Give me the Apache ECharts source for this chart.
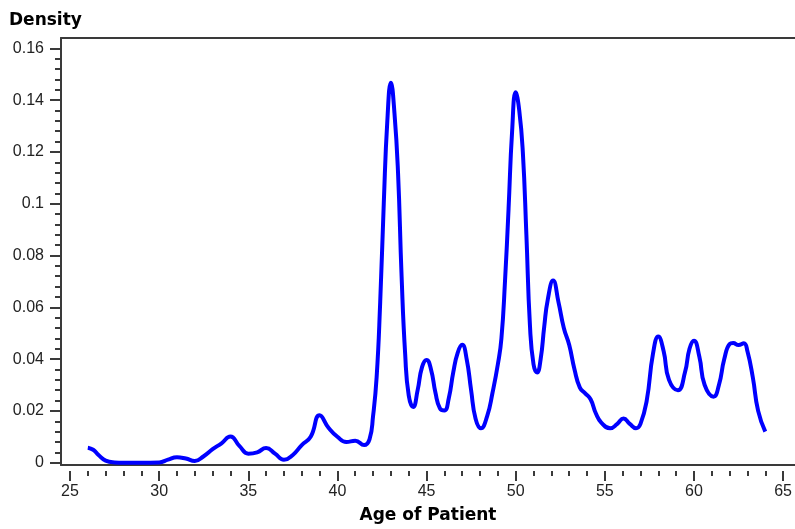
<!DOCTYPE html>
<html>
<head>
<meta charset="utf-8">
<script src="https://cdn.jsdelivr.net/npm/echarts@6/dist/echarts.min.js"></script>
<style>
  html, body { margin: 0; padding: 0; background: #fff; }
  #chart { width: 795px; height: 529px; }
</style>
</head>
<body>
<div id="chart"></div>
<script>
// Kernel density estimate of patient age
const ages = [
  26.0, 26.3, 26.6, 27.0, 27.5, 28.0, 29.0, 30.0, 30.5, 31.0, 31.5, 32.0,
  32.5, 33.0, 33.5, 34.0, 34.5, 35.0, 35.5, 36.0, 36.5, 37.0, 37.5, 38.0,
  38.5, 39.0, 39.5, 40.0, 40.5, 41.0, 41.5, 41.8, 42.0, 42.2, 42.4, 42.6,
  42.8, 43.0, 43.2, 43.4, 43.6, 43.8, 44.0, 44.25, 44.5, 44.75, 45.0, 45.25,
  45.5, 45.75, 46.0, 46.25, 46.5, 46.75, 47.0, 47.25, 47.5, 47.75, 48.05, 48.4,
  48.7, 49.0, 49.2, 49.4, 49.6, 49.8, 50.0, 50.2, 50.4, 50.6, 50.8, 51.0,
  51.2, 51.4, 51.6, 51.8, 52.1, 52.4, 52.7, 53.0, 53.3, 53.6, 53.9, 54.2,
  54.5, 54.8, 55.3, 55.7, 56.05, 56.4, 56.75, 57.0, 57.35, 57.7, 58.0, 58.3,
  58.6, 59.1, 59.5, 59.75, 60.0, 60.3, 60.6, 61.1, 61.4, 61.7, 62.0, 62.2,
  62.5, 62.8, 63.0, 63.3, 63.6, 64.0
];
const density = [
  0.0058, 0.0050, 0.0030, 0.0008, 0.0001, 0.0000, 0.0000, 0.0001, 0.0012, 0.0021, 0.0016, 0.0007,
  0.0025, 0.0052, 0.0075, 0.0101, 0.0065, 0.0035, 0.0040, 0.0057, 0.0035, 0.0011, 0.0030, 0.0068,
  0.0100, 0.0183, 0.0135, 0.0100, 0.0080, 0.0085, 0.0068, 0.0090, 0.0180, 0.0330, 0.0620, 0.1000,
  0.1320, 0.1467, 0.1350, 0.1120, 0.0720, 0.0420, 0.0260, 0.0215, 0.0280, 0.0370, 0.0397, 0.0360,
  0.0270, 0.0210, 0.0202, 0.0250, 0.0350, 0.0425, 0.0455, 0.0400, 0.0280, 0.0170, 0.0133, 0.0180,
  0.0270, 0.0380, 0.0480, 0.0700, 0.0980, 0.1280, 0.1430, 0.1360, 0.1200, 0.0880, 0.0530, 0.0380,
  0.0348, 0.0400, 0.0525, 0.0630, 0.0703, 0.0620, 0.0520, 0.0455, 0.0360, 0.0290, 0.0268, 0.0245,
  0.0190, 0.0155, 0.0133, 0.0150, 0.0171, 0.0150, 0.0133, 0.0150, 0.0240, 0.0420, 0.0487, 0.0430,
  0.0320, 0.0280, 0.0350, 0.0440, 0.0471, 0.0410, 0.0300, 0.0255, 0.0300, 0.0400, 0.0458, 0.0462,
  0.0454, 0.0461, 0.0430, 0.0330, 0.0200, 0.0120
];

const xTitle = 'Age of Patient';
const yTitle = 'Density';

const axisColor = '#3a3a3a';
const labelFont = { fontFamily: 'Liberation Sans, Arial, sans-serif', fontSize: 16, color: '#222' };
const titleFont = { fontFamily: 'DejaVu Sans, sans-serif', fontSize: 17, fontWeight: 'bold', color: '#000' };

const frameAxis = (extra) => Object.assign({
  gridIndex: 0, type: 'value', min: 0, max: 1,
  axisLine: { show: true, onZero: false, lineStyle: { color: axisColor, width: 2 } },
  axisTick: { show: false }, axisLabel: { show: false }, splitLine: { show: false }
}, extra);

const chart = echarts.init(document.getElementById('chart'), null, { renderer: 'canvas' });
chart.setOption({
  animation: false,
  backgroundColor: '#fff',
  title: { text: yTitle, left: 4, top: 7, textStyle: titleFont },
  grid: [
    // outer frame: left, top and bottom lines
    { left: 61, right: -1, top: 38, bottom: 58 },
    // data area: 25..65 by 0..0.16
    { left: 70, right: 8, top: 48.3, bottom: 66.3 }
  ],
  xAxis: [
    frameAxis({ position: 'bottom', name: xTitle, nameLocation: 'middle', nameGap: 42, nameTextStyle: titleFont }),
    frameAxis({ position: 'top' }),
    {
      gridIndex: 1, type: 'value', min: 25, max: 65, interval: 5, offset: 8.3,
      axisLine: { show: false, onZero: false },
      axisTick: { show: true, length: 10, lineStyle: { color: axisColor, width: 2 } },
      minorTick: { show: true, splitNumber: 5, length: 5, lineStyle: { color: axisColor, width: 2 } },
      axisLabel: Object.assign({ margin: 13 }, labelFont),
      splitLine: { show: false }
    }
  ],
  yAxis: [
    frameAxis({ position: 'left' }),
    {
      gridIndex: 1, type: 'value', min: 0, max: 0.16, interval: 0.02, offset: 9,
      axisLine: { show: false, onZero: false },
      axisTick: { show: true, length: 11, lineStyle: { color: axisColor, width: 2 } },
      minorTick: { show: true, splitNumber: 5, length: 6, lineStyle: { color: axisColor, width: 2 } },
      axisLabel: Object.assign({ margin: 17 }, labelFont),
      splitLine: { show: false }
    }
  ],
  series: [{
    type: 'line',
    xAxisIndex: 2, yAxisIndex: 1,
    data: ages.map((a, i) => [a, density[i]]),
    smooth: 0.5,
    showSymbol: false,
    clip: false,
    lineStyle: { color: '#0000ff', width: 4 }
  }]
});
</script>
</body>
</html>
